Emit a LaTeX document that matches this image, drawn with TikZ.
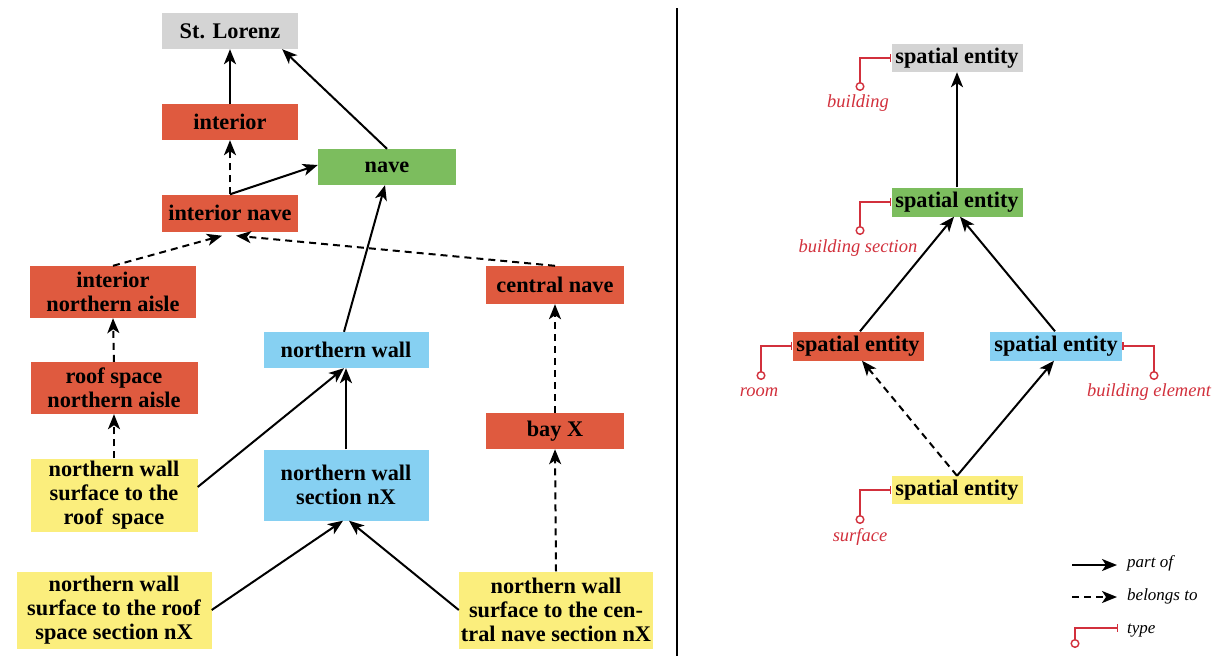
\documentclass[tikz,border=0pt]{standalone}
\usepackage{fontspec}
\setmainfont{Liberation Serif}
\usetikzlibrary{arrows.meta}
\definecolor{boxgray}{HTML}{D4D4D4}
\definecolor{boxred}{HTML}{DF5A3F}
\definecolor{boxgreen}{HTML}{7CBD5E}
\definecolor{boxblue}{HTML}{86D0F2}
\definecolor{boxyellow}{HTML}{FBEE7D}
\definecolor{typered}{HTML}{D2303C}
\tikzset{
  box/.style={rectangle, inner sep=0pt, align=center, text=black,
    font=\bfseries\fontsize{22.3}{24}\selectfont},
  grayb/.style={box, fill=boxgray},
  redb/.style={box, fill=boxred},
  greenb/.style={box, fill=boxgreen},
  blueb/.style={box, fill=boxblue},
  yellowb/.style={box, fill=boxyellow},
  partof/.style={line width=2pt, -{Stealth[length=15pt,width=12pt,inset=4pt]}},
  belongs/.style={partof, dash pattern=on 7pt off 5pt},
  typeline/.style={draw=typered, line width=1.4pt,
    {Circle[open,length=9pt,width=9pt,line width=1.4pt,fill=white]}-{Bar[width=8pt,line width=1.4pt]}},
  typelabel/.style={text=typered, inner sep=0pt, font=\itshape\fontsize{18.5}{20}\selectfont},
  legendlabel/.style={text=black, inner sep=0pt, anchor=west, font=\itshape\fontsize{17}{18}\selectfont},
}
\begin{document}
\begin{tikzpicture}[x=1pt,y=-1pt]
\useasboundingbox[fill=white] (0,0) rectangle (1221,656);

% ---------- left panel ----------
\node[grayb,  minimum width=136pt, minimum height=36pt] (stl) at (230,31) {St. Lorenz};
\node[redb,   minimum width=136pt, minimum height=36pt] (interior) at (230,122) {interior};
\node[greenb, minimum width=138pt, minimum height=36pt] (nave) at (387,167) {nave};
\node[redb,   minimum width=136pt, minimum height=37pt] (inave) at (230,213) {interior nave};
\node[redb,   minimum width=166pt, minimum height=52pt] (ina) at (113,292) {interior\\northern aisle};
\node[redb,   minimum width=138pt, minimum height=38pt] (cnave) at (555,285) {central nave};
\node[redb,   minimum width=138pt, minimum height=36pt] (bay) at (555,431) {bay X};
\node[blueb,  minimum width=165pt, minimum height=36pt] (nwall) at (346,350) {northern wall};
\node[blueb,  minimum width=165pt, minimum height=71pt] (nwsec) at (346,485) {northern wall\\section nX};
\node[redb,   minimum width=167pt, minimum height=52pt] (rsna) at (114,388) {roof space\\northern aisle};
\node[yellowb,minimum width=167pt, minimum height=73pt] (nwsr) at (114,495) {northern wall\\surface to the\\roof\, space};
\node[yellowb,minimum width=195pt, minimum height=77pt] (nwsrs) at (114,610) {northern wall\\surface to the roof\\space section nX};
\node[yellowb,minimum width=194pt, minimum height=77pt] (nwscn) at (556,610) {northern wall\\surface to the cen-\\tral nave section nX};

\draw[partof] (interior.north) -- (stl.south);
\draw[partof] (nave.north) -- ([xshift=-16pt]stl.south east);
\draw[belongs] (inave.north) -- (interior.south);
\draw[partof] (inave.north) -- ([yshift=2pt]nave.west);
\draw[belongs] (ina.north) -- ([xshift=-8pt,yshift=-4pt]inave.south);
\draw[belongs] (cnave.north) -- ([xshift=6pt,yshift=-4pt]inave.south);
\draw[partof] ([xshift=-2pt]nwall.north) -- ([xshift=-2pt]nave.south);
\draw[belongs] (rsna.north) -- (ina.south);
\draw[belongs] (nwsr.north) -- (rsna.south);
\draw[partof] ([yshift=8pt]nwsr.east) -- ([xshift=-2pt]nwall.south);
\draw[partof] (nwsec.north) -- (nwall.south);
\draw[partof] (nwsrs.east) -- ([xshift=-3pt]nwsec.south);
\draw[partof] (nwscn.west) -- ([xshift=3pt]nwsec.south);
\draw[belongs] (nwscn.north) -- (bay.south);
\draw[belongs] (bay.north) -- (cnave.south);

% ---------- divider ----------
\coordinate (dtop) at (677,8);
\coordinate (dbot) at (677,656);
\draw[line width=1.2pt] (dtop) -- (dbot);

% ---------- right panel ----------
\node[grayb,   minimum width=131pt, minimum height=28pt] (sg) at (957,58) {spatial entity};
\node[greenb,  minimum width=131pt, minimum height=29pt] (sgr) at (957,202) {spatial entity};
\node[redb,    minimum width=131pt, minimum height=29pt] (sr) at (858,346) {spatial entity};
\node[blueb,   minimum width=132pt, minimum height=29pt] (sb) at (1056,346) {spatial entity};
\node[yellowb, minimum width=131pt, minimum height=28pt] (sy) at (957,490) {spatial entity};

\draw[partof] (sgr.north) -- (sg.south);
\draw[partof] ([xshift=2pt]sr.north) -- ([xshift=-3pt]sgr.south);
\draw[partof] ([xshift=-1pt]sb.north) -- ([xshift=3pt]sgr.south);
\draw[belongs] (sy.north) -- ([xshift=4pt]sr.south);
\draw[partof] (sy.north) -- ([xshift=-2pt]sb.south);

% type connectors
\coordinate (t1) at (860,91);
\coordinate (t2) at (860,235);
\coordinate (t3) at (761,380);
\coordinate (t4) at (1154,380);
\coordinate (t5) at (860,524);
\draw[typeline] (t1) |- (sg.west);
\draw[typeline] (t2) |- (sgr.west);
\draw[typeline] (t3) |- (sr.west);
\draw[typeline] (t4) |- (sb.east);
\draw[typeline] (t5) |- (sy.west);
\node[typelabel] (l1) at (858,103) {building};
\node[typelabel] (l2) at (858,248) {building section};
\node[typelabel] (l3) at (759,392) {room};
\node[typelabel] (l4) at (1149,392) {building element};
\node[typelabel] (l5) at (860,537) {surface};

% legend
\coordinate (pa) at (1072,565);
\coordinate (pb) at (1117,565);
\coordinate (ba) at (1072,597);
\coordinate (bb) at (1117,597);
\coordinate (ta) at (1075,648);
\coordinate (tb) at (1118,628);
\draw[partof] (pa) -- (pb);
\draw[belongs] (ba) -- (bb);
\draw[typeline] (ta) |- (tb);
\node[legendlabel] (lp) at (1127,563) {part of};
\node[legendlabel] (lb) at (1127,596) {belongs to};
\node[legendlabel] (lt) at (1127,631) {type};
\end{tikzpicture}
\end{document}
